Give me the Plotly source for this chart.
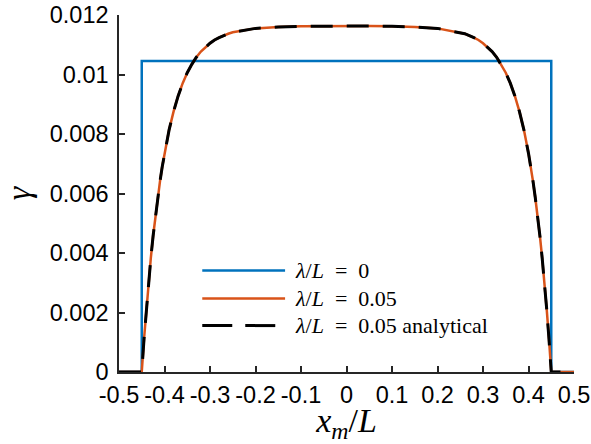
import plotly.graph_objects as go

# Position along the specimen, x_m / L
x_sharp = [-0.5, -0.45, -0.45, 0.45, 0.45, 0.5]
gamma_sharp = [0.0, 0.0, 0.01045, 0.01045, 0.0, 0.0]

x_grad = [-0.5, -0.45, -0.445, -0.44, -0.435, -0.43, -0.425, -0.42, -0.415, -0.41,
          -0.405, -0.40, -0.39, -0.38, -0.37, -0.36, -0.35, -0.34, -0.33, -0.32,
          -0.31, -0.30, -0.29, -0.28, -0.26, -0.25, -0.2, -0.15, -0.1, -0.05, 0.0,
          0.05, 0.1, 0.15, 0.2, 0.25, 0.26, 0.28, 0.29, 0.30, 0.31, 0.32, 0.33,
          0.34, 0.35, 0.36, 0.37, 0.38, 0.39, 0.40, 0.405, 0.41, 0.415, 0.42,
          0.425, 0.43, 0.435, 0.44, 0.445, 0.45, 0.5]
gamma_grad = [0.0, 0.0, 0.00111, 0.00211, 0.00302, 0.00384, 0.00458, 0.00525,
              0.00585, 0.00640, 0.00690, 0.00735, 0.00813, 0.00876, 0.00928,
              0.00971, 0.01006, 0.01034, 0.01058, 0.01077, 0.01092, 0.01105,
              0.01116, 0.01124, 0.01137, 0.01142, 0.01155, 0.01160, 0.01162,
              0.01163, 0.01163,
              0.01163, 0.01162, 0.01160, 0.01155, 0.01142, 0.01137, 0.01124,
              0.01116, 0.01105, 0.01092, 0.01077, 0.01058, 0.01034, 0.01006,
              0.00971, 0.00928, 0.00876, 0.00813, 0.00735, 0.00690, 0.00640,
              0.00585, 0.00525, 0.00458, 0.00384, 0.00302, 0.00211, 0.00111,
              0.0, 0.0]

x_analytical = list(x_grad)
gamma_analytical = list(gamma_grad)

x_ticks = [-0.5, -0.4, -0.3, -0.2, -0.1, 0, 0.1, 0.2, 0.3, 0.4, 0.5]
x_tick_text = ["-0.5", "-0.4", "-0.3", "-0.2", "-0.1", "0", "0.1", "0.2", "0.3", "0.4", "0.5"]
y_ticks = [0, 0.002, 0.004, 0.006, 0.008, 0.01, 0.012]
y_tick_text = ["0", "0.002", "0.004", "0.006", "0.008", "0.01", "0.012"]

EQ = "&nbsp;&nbsp;=&nbsp;&nbsp;"
legend_labels = [
    "<i>λ</i>/<i>L</i>" + EQ + "0",
    "<i>λ</i>/<i>L</i>" + EQ + "0.05",
    "<i>λ</i>/<i>L</i>" + EQ + "0.05 analytical",
]

BLUE = "#0072BD"
ORANGE = "#D95319"
AXIS = "#262626"
SERIF = "Liberation Serif, DejaVu Serif, serif"
SANS = "Liberation Sans, Arial, sans-serif"

fig = go.Figure()
fig.add_trace(go.Scatter(x=x_sharp, y=gamma_sharp, mode="lines",
                         line=dict(color=BLUE, width=2.5), showlegend=False))
fig.add_trace(go.Scatter(x=x_grad, y=gamma_grad, mode="lines",
                         line=dict(color=ORANGE, width=2.5), showlegend=False))
fig.add_trace(go.Scatter(x=x_analytical, y=gamma_analytical, mode="lines",
                         line=dict(color="black", width=3, dash="22px,14px"),
                         showlegend=False))

# Hand-built legend entries (paper coordinates)
legend_styles = [
    dict(color=BLUE, width=2.5),
    dict(color=ORANGE, width=2.5),
    dict(color="black", width=3, dash="30px,13px"),
]
rows_y = [0.284, 0.206, 0.130]
for label, style, yy in zip(legend_labels, legend_styles, rows_y):
    fig.add_shape(type="line", xref="paper", yref="paper",
                  x0=0.183, x1=0.365, y0=yy, y1=yy, line=style)
    fig.add_annotation(xref="paper", yref="paper", x=0.383, y=yy,
                       xanchor="left", yanchor="middle", showarrow=False,
                       text=label, font=dict(family=SERIF, size=22, color="black"))

fig.update_layout(
    template="none",
    width=591, height=444,
    margin=dict(l=119, r=17, t=15, b=72, autoexpand=False),
    paper_bgcolor="white", plot_bgcolor="white",
    showlegend=False,
    xaxis=dict(
        range=[-0.5, 0.5], tickvals=x_ticks, ticktext=x_tick_text, automargin=False,
        showgrid=False, zeroline=False, showline=True, linecolor=AXIS, linewidth=1.5,
        ticks="inside", ticklen=6, tickwidth=1.5, tickcolor=AXIS, ticklabelstandoff=1,
        tickfont=dict(family=SANS, size=23.5, color="black"),
        title=dict(text="<i>x</i><sub><i>m</i></sub>/<i>L</i>",
                   font=dict(family=SERIF, size=34, color="black"), standoff=2),
    ),
    yaxis=dict(
        range=[0, 0.012], tickvals=y_ticks, ticktext=y_tick_text, automargin=False,
        showgrid=False, zeroline=False, showline=True, linecolor=AXIS, linewidth=1.5,
        ticks="inside", ticklen=6, tickwidth=1.5, tickcolor=AXIS, ticklabelstandoff=4,
        tickfont=dict(family=SANS, size=23.5, color="black"),
        title=dict(text="<i>γ</i>", font=dict(family=SERIF, size=34, color="black"),
                   standoff=14),
    ),
)

fig.write_html("out.html")
